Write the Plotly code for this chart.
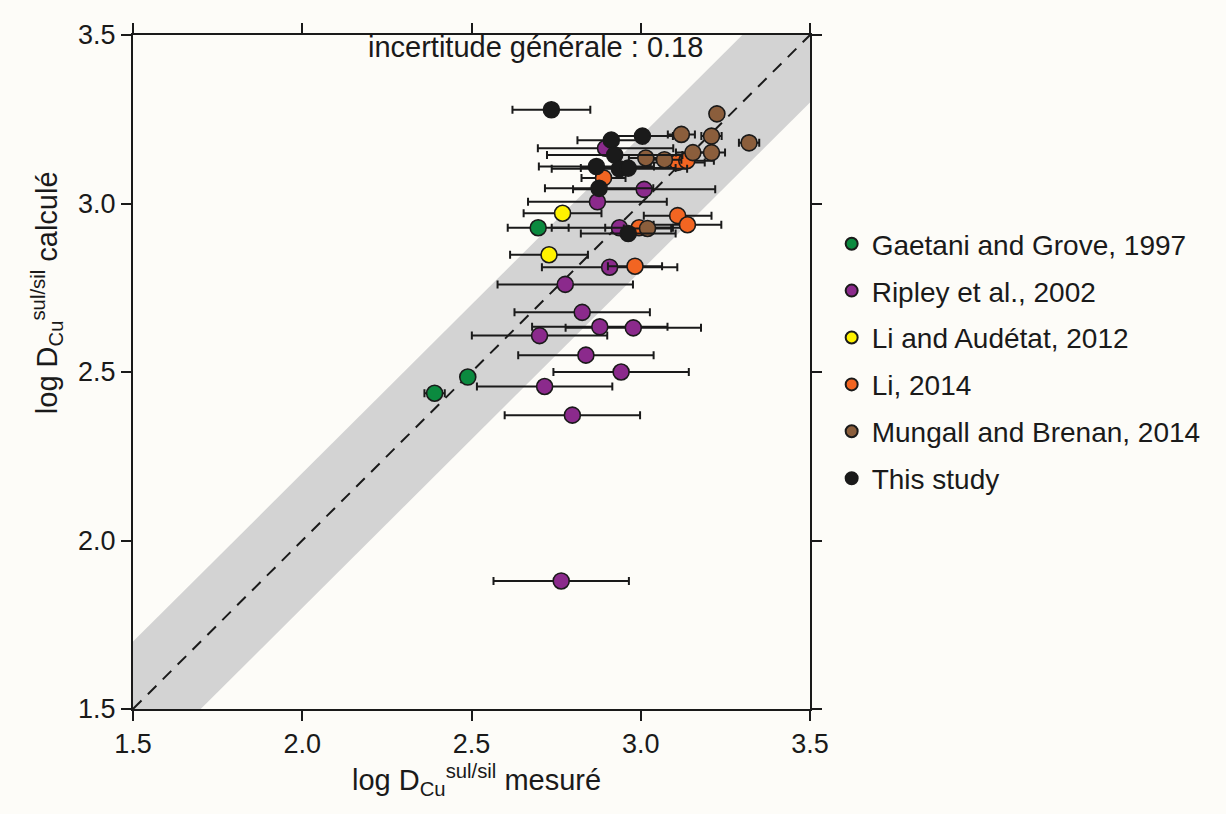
import plotly.graph_objects as go

# measured (x) vs calculated (y) log D_Cu sul/sil, with x uncertainty
gaetani_x = [2.697, 2.489, 2.391]
gaetani_y = [2.928, 2.485, 2.437]
gaetani_err = [0.09, 0.0, 0.03]

ripley_x = [2.896, 3.010, 2.872, 2.937, 2.908, 2.777, 2.827, 2.879, 2.978, 2.701, 2.838, 2.942, 2.716, 2.798, 2.765]
ripley_y = [3.164, 3.042, 3.005, 2.928, 2.811, 2.760, 2.677, 2.634, 2.631, 2.608, 2.550, 2.500, 2.457, 2.372, 1.880]
ripley_err = [0.20, 0.21, 0.205, 0.20, 0.20, 0.20, 0.20, 0.20, 0.20, 0.20, 0.20, 0.20, 0.20, 0.20, 0.20]

liaud_x = [2.769, 2.729]
liaud_y = [2.971, 2.848]
liaud_err = [0.115, 0.115]

li_x = [2.890, 3.109, 3.136, 3.109, 3.138, 2.995, 2.983]
li_y = [3.076, 3.122, 3.127, 2.964, 2.937, 2.928, 2.814]
li_err = [0.065, 0.08, 0.08, 0.10, 0.10, 0.10, 0.08]

mungall_x = [3.225, 3.120, 3.209, 3.320, 3.015, 3.070, 3.154, 3.209, 3.020]
mungall_y = [3.266, 3.205, 3.200, 3.180, 3.135, 3.130, 3.151, 3.151, 2.926]
mungall_err = [0.02, 0.04, 0.03, 0.03, 0.05, 0.05, 0.05, 0.04, 0.07]

study_x = [2.736, 3.005, 2.913, 2.923, 2.869, 2.937, 2.963, 2.877, 2.963]
study_y = [3.278, 3.200, 3.188, 3.144, 3.110, 3.103, 3.105, 3.045, 2.911]
study_err = [0.115, 0.09, 0.10, 0.20, 0.17, 0.20, 0.14, 0.16, 0.14]

series = [
    ("Gaetani and Grove, 1997", gaetani_x, gaetani_y, gaetani_err, "#0b8a3f"),
    ("Ripley et al., 2002", ripley_x, ripley_y, ripley_err, "#8b2a8c"),
    ("Li and Audétat, 2012", liaud_x, liaud_y, liaud_err, "#fff200"),
    ("Li, 2014", li_x, li_y, li_err, "#f26522"),
    ("Mungall and Brenan, 2014", mungall_x, mungall_y, mungall_err, "#8b5e3c"),
    ("This study", study_x, study_y, study_err, "#1a1a1a"),
]

lo, hi = 1.5, 3.5
band = 0.2
band_x = [lo, hi - band, hi, hi, lo + band, lo]
band_y = [lo + band, hi, hi, hi - band, lo, lo]

tick_vals = [1.5, 2.0, 2.5, 3.0, 3.5]

BG = "#fdfcf8"
FONT = "Liberation Sans, Arial, sans-serif"
INK = "#1a1a1a"

fig = go.Figure()

fig.add_trace(go.Scatter(x=band_x, y=band_y, fill="toself", fillcolor="#d3d3d3",
                         line=dict(width=0), mode="lines", hoverinfo="skip",
                         showlegend=False))
fig.add_trace(go.Scatter(x=[lo, hi], y=[lo, hi], mode="lines",
                         line=dict(color=INK, width=2, dash="12px,9px"),
                         showlegend=False))

for i, (name, xs, ys, errs, col) in enumerate(series):
    fig.add_trace(go.Scatter(
        x=xs, y=ys, mode="markers", name=name, legendgroup=str(i),
        error_x=dict(type="data", array=errs, visible=True,
                     color=INK, thickness=2, width=4),
        marker=dict(size=16, color=col, line=dict(color=INK, width=1.6)),
    ))

axis_style = dict(
    range=[lo, hi], tickvals=tick_vals, tickformat=".1f",
    showline=True, linecolor=INK, linewidth=2, mirror="ticks",
    ticks="outside", ticklen=10, tickwidth=2, tickcolor=INK,
    showgrid=False, zeroline=False,
    tickfont=dict(family=FONT, size=27, color=INK),
)
fig.update_xaxes(**axis_style)
fig.update_yaxes(**axis_style)

fig.add_annotation(x=2.69, y=3.465, xref="x", yref="y", showarrow=False,
                   text="incertitude générale : 0.18",
                   font=dict(family=FONT, size=29, color=INK))
fig.add_annotation(x=0.508, y=-0.106, xref="paper", yref="paper", showarrow=False,
                   xanchor="center", yanchor="middle",
                   text="log D<sub>Cu</sub><sup>sul/sil</sup> mesuré",
                   font=dict(family=FONT, size=29, color=INK))
fig.add_annotation(x=-0.127, y=0.617, xref="paper", yref="paper", showarrow=False,
                   xanchor="center", yanchor="middle", textangle=-90,
                   text="log D<sub>Cu</sub><sup>sul/sil</sup> calculé",
                   font=dict(family=FONT, size=29, color=INK))

fig.update_layout(
    width=1210, height=798,
    margin=dict(l=125, r=398, t=15, b=97),
    paper_bgcolor=BG, plot_bgcolor=BG,
    showlegend=True,
    legend=dict(x=1.032, y=0.727, xanchor="left", yanchor="top",
                font=dict(family=FONT, size=28, color=INK),
                bgcolor="rgba(0,0,0,0)", tracegroupgap=7.5,
                itemsizing="constant"),
)

fig.write_html("out.html", post_script="document.body.style.background='%s';" % BG)
